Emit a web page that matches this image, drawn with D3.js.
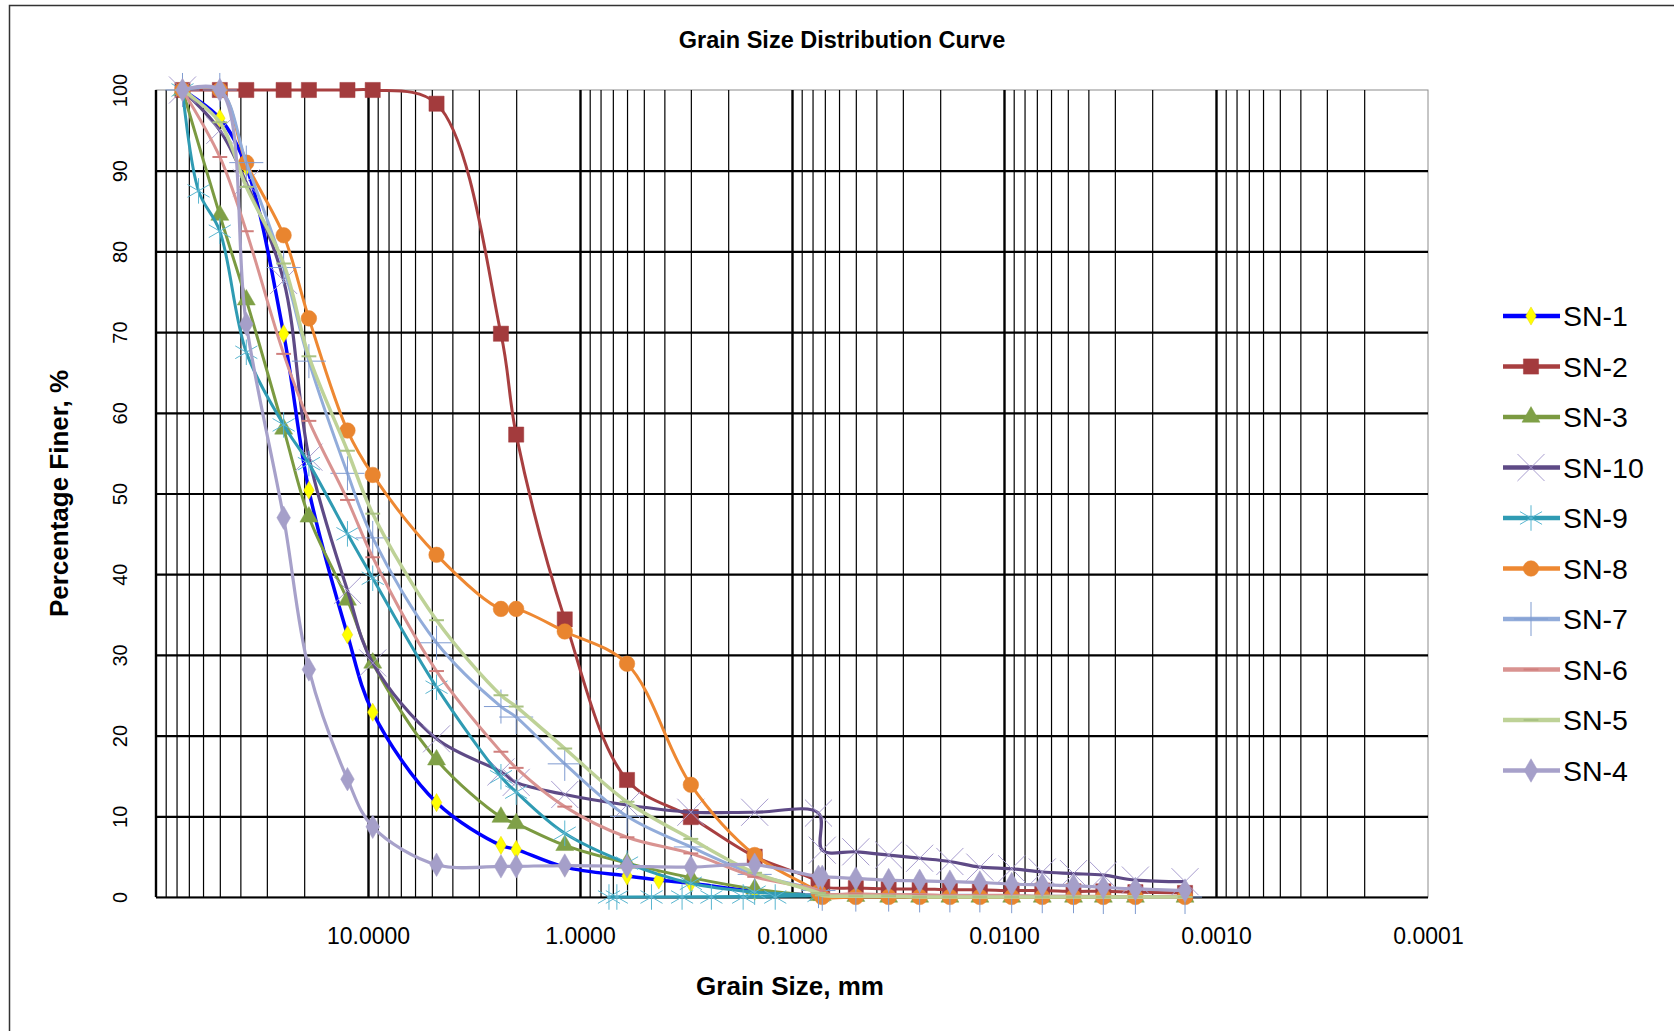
<!DOCTYPE html>
<html>
<head>
<meta charset="utf-8">
<script src="https://cdn.jsdelivr.net/npm/d3@7"></script>
<style>
  html, body { margin: 0; padding: 0; background: #fff; overflow: hidden; }
  svg { display: block; }
  svg text { font-family: "Liberation Sans", Arial, sans-serif; }
</style>
</head>
<body>
<div id="chart"></div>
<script>
// sieve sizes (mm) and hydrometer sizes (mm)
const sieveMM = [75, 63, 50, 37.5, 25, 19, 12.5, 9.5, 4.75, 2.36, 2.0, 1.18, 0.6, 0.425, 0.3, 0.15, 0.075];
const hydroMM = [0.072, 0.050, 0.035, 0.025, 0.018, 0.013, 0.0092, 0.0066, 0.0047, 0.0034, 0.0024, 0.0014];
const sn9HydroMM = [0.73, 0.67, 0.46, 0.33, 0.24, 0.17, 0.12];

// percentage finer per sample (null = no reading)
const sn1 = [100, null, 96.5, 90.5, 69.8, 50.4, 32.5, 22.9, 11.7, 6.4, 5.9, 3.7, 2.6, 2.1, 1.7, 0.7, 0.2];
const sn2 = [100, null, 100, 100, 100, 100, 100, 100, 98.3, 69.8, 57.3, 34.4, 14.5, null, 9.9, 5.0, 1.9];
const sn3 = [100, null, 84.5, 74, 58, 47.1, 36.8, 29, 17, 9.9, 9.1, 6.4, 4.2, null, 2.4, 1.0, 0.2];
const sn10 = [100, null, 95, 88.5, 76.4, 54.5, 38, 29, 19.6, 15.5, 14.2, 12.7, 11.4, null, 10.5, 10.5, 10.4];
const sn9 = [100, 87.5, 82.5, 67.5, 58.5, 53.7, 45, 39.5, 26, 14.9, 13, 7.9, 4.2, null, 1.7, 0.6, 0.2];
const sn8 = [100, null, 100, 91, 82, 71.7, 57.8, 52.3, 42.4, 35.7, 35.7, 32.9, 28.9, null, 13.9, 5.2, 0.6];
const sn7 = [100, null, 100, 91, 78, 66.4, 52.5, 44.5, 31.5, 23.6, 22.3, 16.5, 10, null, 6.2, 2.8, 0.8];
const sn6 = [100, null, 91.7, 82.5, 67.3, 59, 49.2, 42.1, 28, 18, 16, 11.2, 7.4, null, 5.4, 2.5, 0.8];
const sn5 = [100, null, 96, 88, 78.5, 67, 55.3, 47.5, 34.3, 25, 23.6, 18.4, 11.8, null, 7.2, 3.0, 0.5];
const sn4 = [100, null, 100, 71, 47, 28.2, 14.6, 8.7, 4.0, 3.8, 3.8, 3.9, 3.8, null, 3.7, 4.0, 2.5];

const sn2Hydro = [1.3, 1.1, 1.0, 1.0, 0.9, 0.9, 0.8, 0.8, 0.7, 0.7, 0.6, 0.5];
const sn3Hydro = [0.2, 0.1, 0, 0, 0, 0, 0, 0, 0, 0, 0, 0];
const sn10Hydro = [5.8, 5.6, 5.2, 4.8, 4.4, 3.7, 3.5, 3.1, 2.9, 2.7, 2.1, 1.9];
const sn9Hydro = [0, 0, 0, 0, 0, 0, 0];
const sn8Hydro = [0, 0, 0, 0, 0, 0, 0, 0, 0, 0, 0, 0];
const sn7Hydro = [0.4, 0.3, 0.3, 0.2, 0.2, 0.2, 0.1, 0.1, 0.1, 0, 0, 0];
const sn6Hydro = [0.4, 0.4, 0.3, 0.3, 0.2, 0.2, 0.2, 0.1, 0.1, 0.1, 0, 0];
const sn5Hydro = [0.2, 0.1, 0.1, 0, 0, 0, 0, 0, 0, 0, 0, 0];
const sn4Hydro = [2.5, 2.3, 2.1, 2.0, 1.9, 1.8, 1.6, 1.5, 1.4, 1.2, 1.0, 0.8];

const seriesNames = ["SN-1", "SN-2", "SN-3", "SN-10", "SN-9", "SN-8", "SN-7", "SN-6", "SN-5", "SN-4"];
const xTicks = [10, 1, 0.1, 0.01, 0.001, 0.0001];
const yTicks = [0, 10, 20, 30, 40, 50, 60, 70, 80, 90, 100];

const width = 1674;
const height = 1031;
const margin = { top: 90, right: 246, bottom: 134, left: 156 };
const innerWidth = width - margin.left - margin.right;
const innerHeight = height - margin.top - margin.bottom;
const fontStack = "'Liberation Sans', Arial, sans-serif";

// dash marker used by SN-6 / SN-5
const symbolDash = {
    draw(ctx, size) {
        const w = Math.sqrt(size) / 2;
        ctx.moveTo(-w, 0);
        ctx.lineTo(w, 0);
    }
};

const styles = [
    { line: "#0000ff", lw: 3.5, sym: d3.symbolDiamond, size: 95, fill: "#ffff00", stroke: "#e6d200", sw: 0.5 },
    { line: "#a83f40", lw: 3, sym: d3.symbolSquare, size: 230, fill: "#a33b3d", stroke: "#a33b3d", sw: 0.5 },
    { line: "#7b9a41", lw: 3, sym: d3.symbolTriangle, size: 140, fill: "#7fa047", stroke: "#7fa047", sw: 0.5 },
    { line: "#5e4a86", lw: 3.2, sym: d3.symbolTimes, size: 480, fill: "none", stroke: "#a89dcf", sw: 1 },
    { line: "#2f9bb3", lw: 3, sym: d3.symbolAsterisk, size: 460, fill: "none", stroke: "#5ab6d0", sw: 1 },
    { line: "#ee8832", lw: 3, sym: d3.symbolCircle, size: 190, fill: "#e9852f", stroke: "#e9852f", sw: 0.5 },
    { line: "#92acda", lw: 3, sym: d3.symbolPlus, size: 380, fill: "none", stroke: "#7f9bd0", sw: 1 },
    { line: "#d99391", lw: 3, sym: symbolDash, size: 220, fill: "none", stroke: "#d07f7d", sw: 2 },
    { line: "#bed297", lw: 3.5, sym: symbolDash, size: 220, fill: "none", stroke: "#a9c283", sw: 2 },
    { line: "#a7a1ca", lw: 3.2, sym: d3.symbolDiamond, size: 160, fill: "#a59fc9", stroke: "#a59fc9", sw: 0.5 }
];

const toPoints = (sizes, vals) => sizes
    .map((s, i) => ({ d: s, p: vals[i] }))
    .filter(o => o.p !== null);

const seriesData = [
    toPoints(sieveMM, sn1),
    toPoints(sieveMM, sn2).concat(toPoints(hydroMM, sn2Hydro)),
    toPoints(sieveMM, sn3).concat(toPoints(hydroMM, sn3Hydro)),
    toPoints(sieveMM, sn10).concat(toPoints(hydroMM, sn10Hydro)),
    toPoints(sieveMM, sn9).concat(toPoints(sn9HydroMM, sn9Hydro)),
    toPoints(sieveMM, sn8).concat(toPoints(hydroMM, sn8Hydro)),
    toPoints(sieveMM, sn7).concat(toPoints(hydroMM, sn7Hydro)),
    toPoints(sieveMM, sn6).concat(toPoints(hydroMM, sn6Hydro)),
    toPoints(sieveMM, sn5).concat(toPoints(hydroMM, sn5Hydro)),
    toPoints(sieveMM, sn4).concat(toPoints(hydroMM, sn4Hydro))
];

const svg = d3.select("#chart")
    .append("svg")
    .attr("width", width)
    .attr("height", height)
    .attr("viewBox", `0 0 ${width} ${height}`);

// outer frame (right and bottom edges sit at the picture edge)
svg.append("path")
    .attr("d", `M${width},5.5 H9.5 V${height}`)
    .attr("fill", "none")
    .attr("stroke", "#333")
    .attr("stroke-width", 1.5);

svg.append("text")
    .text("Grain Size Distribution Curve")
    .attr("x", 842)
    .attr("y", 48)
    .attr("text-anchor", "middle")
    .attr("font-family", fontStack)
    .attr("font-weight", "bold")
    .attr("font-size", "23.5px");

const inner = svg.append("g")
    .attr("transform", `translate(${margin.left}, ${margin.top})`);

const xScale = d3.scaleLog()
    .domain([100, 0.0001])
    .range([0, innerWidth]);

const yScale = d3.scaleLinear()
    .domain([0, 100])
    .range([innerHeight, 0]);

// plot border
inner.append("rect")
    .attr("width", innerWidth)
    .attr("height", innerHeight)
    .attr("fill", "none")
    .attr("stroke", "#8c8c8c")
    .attr("stroke-width", 1);

// vertical grid: every 1..9 in each decade
const allTicks = xScale.ticks();
const isDecade = v => Math.abs(Math.log10(v) - Math.round(Math.log10(v))) < 1e-9;
const minorTicks = allTicks.filter(v => !isDecade(v));
const decadeTicks = allTicks.filter(v => isDecade(v) && v < 100 && v > 0.0001);

inner.append("g")
    .attr("class", "grid-minor")
    .call(d3.axisBottom(xScale).tickValues(minorTicks).tickSize(innerHeight).tickFormat(""))
    .call(g => g.select(".domain").remove())
    .call(g => g.selectAll("text").remove())
    .selectAll("line").attr("stroke", "#000").attr("stroke-width", 1.2);

inner.append("g")
    .attr("class", "grid-major")
    .call(d3.axisBottom(xScale).tickValues(decadeTicks).tickSize(innerHeight).tickFormat(""))
    .call(g => g.select(".domain").remove())
    .call(g => g.selectAll("text").remove())
    .selectAll("line").attr("stroke", "#000").attr("stroke-width", 2.4);

// horizontal grid
inner.append("g")
    .attr("class", "grid-y")
    .call(d3.axisLeft(yScale).tickValues(yTicks.filter(v => v < 100)).tickSize(-innerWidth).tickFormat(""))
    .call(g => g.select(".domain").remove())
    .call(g => g.selectAll("text").remove())
    .selectAll("line").attr("stroke", "#000").attr("stroke-width", 2.2);

// left edge
inner.append("line")
    .attr("x1", 0).attr("x2", 0)
    .attr("y1", 0).attr("y2", innerHeight)
    .attr("stroke", "#000").attr("stroke-width", 2.4);

// x labels
const xAxis = inner.append("g")
    .attr("class", "axis-x")
    .attr("transform", `translate(0, ${innerHeight})`)
    .call(d3.axisBottom(xScale).tickValues(xTicks).tickSize(0).tickPadding(31).tickFormat(d3.format(".4f")));
xAxis.select(".domain").remove();
xAxis.attr("font-family", fontStack).attr("font-size", 23);
xAxis.selectAll("text")
    .attr("font-size", "23px")
    .attr("fill", "#000")
    .attr("font-family", fontStack);

// y labels (rotated)
const yAxis = inner.append("g")
    .attr("class", "axis-y")
    .call(d3.axisLeft(yScale).tickValues(yTicks).tickSize(0));
yAxis.select(".domain").remove();
yAxis.attr("font-family", fontStack).attr("font-size", 20);
yAxis.selectAll("text")
    .attr("transform", "rotate(-90)")
    .attr("x", 0)
    .attr("y", -29)
    .attr("dy", 0)
    .attr("text-anchor", "middle")
    .attr("font-size", "20px")
    .attr("fill", "#000")
    .attr("font-family", fontStack);

svg.append("text")
    .text("Grain Size, mm")
    .attr("x", 790)
    .attr("y", 995)
    .attr("text-anchor", "middle")
    .attr("font-family", fontStack)
    .attr("font-weight", "bold")
    .attr("font-size", "26px");

svg.append("text")
    .text("Percentage Finer, %")
    .attr("transform", `translate(68, ${margin.top + innerHeight / 2}) rotate(-90)`)
    .attr("text-anchor", "middle")
    .attr("font-family", fontStack)
    .attr("font-weight", "bold")
    .attr("font-size", "26px");

// curves
const line = d3.line()
    .x(d => xScale(d.d))
    .y(d => yScale(d.p))
    .curve(d3.curveCatmullRom.alpha(0.5));

const symbolPath = st => d3.symbol().type(st.sym).size(st.size)();

seriesData.forEach((pts, i) => {
    const st = styles[i];
    const g = inner.append("g").attr("class", "series");
    g.append("path")
        .attr("d", line(pts))
        .attr("fill", "none")
        .attr("stroke", st.line)
        .attr("stroke-width", st.lw);
    g.selectAll("path.marker")
        .data(pts)
        .join("path")
        .attr("class", "marker")
        .attr("d", symbolPath(st))
        .attr("transform", d => `translate(${xScale(d.d)}, ${yScale(d.p)})`)
        .attr("fill", st.fill)
        .attr("stroke", st.stroke)
        .attr("stroke-width", st.sw);
});

// legend
const legend = svg.append("g")
    .attr("transform", "translate(1503, 316)");

seriesNames.forEach((name, i) => {
    const st = styles[i];
    const row = legend.append("g").attr("transform", `translate(0, ${i * 50.5})`);
    row.append("line")
        .attr("x1", 0).attr("x2", 57)
        .attr("stroke", st.line)
        .attr("stroke-width", 4.5);
    row.append("path")
        .attr("d", symbolPath(st))
        .attr("transform", "translate(28, 0)")
        .attr("fill", st.fill)
        .attr("stroke", st.stroke)
        .attr("stroke-width", st.sw);
    row.append("text")
        .text(name)
        .attr("x", 60)
        .attr("y", 10)
        .attr("font-family", fontStack)
        .attr("font-size", "28.5px")
        .attr("fill", "#000");
});
</script>
</body>
</html>
